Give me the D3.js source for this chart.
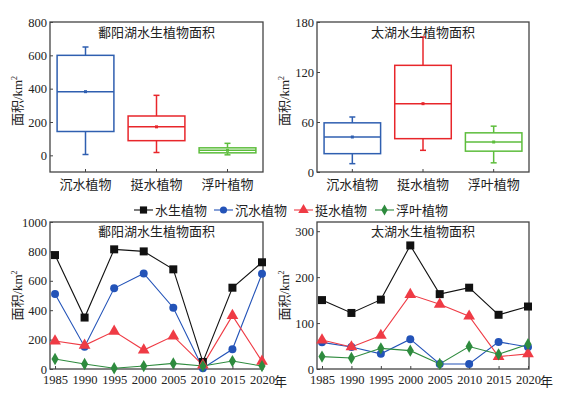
<!DOCTYPE html>
<html>
<head>
<meta charset="utf-8">
<script src="https://cdn.jsdelivr.net/npm/d3@7"></script>
<style>
  body { margin: 0; background: #fff; }
  svg text { fill: #222; }
</style>
</head>
<body>
<div id="chart"></div>
<script>
// box plot categories
var plantTypes = ['沉水植物', '挺水植物', '浮叶植物'];
// [low whisker, q1, median, q3, high whisker, mean]
var poyangBox = [
  [5, 143, 382, 600, 650, 382],
  [17, 88, 171, 236, 360, 171],
  [3, 15, 30, 45, 72, 30]
];
var taihuBox = [
  [10, 22, 42, 59, 66, 42],
  [26, 40, 82, 128, 162, 82],
  [11, 25, 36, 47, 55, 36]
];

// line chart data
var years = [1985, 1990, 1995, 2000, 2005, 2010, 2015, 2020];
var seriesNames = ['水生植物', '沉水植物', '挺水植物', '浮叶植物'];
var poyangTotal    = [775, 350, 814, 800, 678, 48, 553, 726];
var poyangSubmerged = [510, 152, 549, 650, 417, 5, 134, 648];
var poyangEmergent = [190, 161, 256, 129, 224, 27, 363, 52];
var poyangFloating = [68, 34, 5, 20, 38, 20, 54, 20];
var taihuTotal     = [150, 122, 151, 269, 163, 177, 118, 136];
var taihuSubmerged = [58, 48, 33, 65, 11, 11, 59, 48];
var taihuEmergent  = [63, 48, 73, 162, 141, 115, 27, 33];
var taihuFloating  = [27, 24, 45, 40, 11, 49, 32, 54];

var boxColors = ['#2f5fb0', '#e8262b', '#5dbd3c'];
var lineColors = ['#111111', '#2353b8', '#ef3b45', '#2e8b3e'];
var markerTypes = [d3.symbolSquare, d3.symbolCircle, d3.symbolTriangle, d3.symbolDiamond];
var markerSizes = [64, 50, 60, 44];

var numFont = '"Liberation Serif", "Times New Roman", serif';
var cjkFont = '"Liberation Serif", "Noto Sans CJK SC", sans-serif';

var W = 563, H = 394;
var svg = d3.select('#chart').append('svg').attr('width', W).attr('height', H);

function frame(g, x0, x1, y0, y1) {
  g.append('rect').attr('x', x0).attr('y', y0)
    .attr('width', x1 - x0).attr('height', y1 - y0)
    .attr('fill', 'none').attr('stroke', '#444').attr('stroke-width', 1.3);
}

function styleAxis(a) {
  a.select('.domain').remove();
  a.attr('font-family', numFont).attr('font-size', 12.5);
  a.selectAll('line').attr('stroke', '#444');
  a.selectAll('text').attr('fill', '#222');
}

function yAxis(g, y, x0, ticks) {
  var ax = d3.axisLeft(y).tickValues(ticks).tickFormat(d3.format('d'))
    .tickSizeInner(-3).tickSizeOuter(0).tickPadding(3);
  styleAxis(g.append('g').attr('transform', 'translate(' + x0 + ',0)').call(ax));
}

function yLabel(g, x, y) {
  var t = g.append('text').attr('transform', 'translate(' + x + ',' + y + ') rotate(-90)')
    .attr('text-anchor', 'middle').attr('font-size', 13).attr('font-family', cjkFont);
  t.append('tspan').text('面积/km');
  t.append('tspan').attr('dy', -5).attr('font-size', 8).text('2');
}

function title(g, x, y, s) {
  g.append('text').attr('x', x).attr('y', y).attr('text-anchor', 'middle')
    .attr('font-size', 13).attr('font-family', cjkFont).text(s);
}

function boxPanel(data, x0, x1, y0, y1, domain, ticks, name) {
  var g = svg.append('g');
  var x = d3.scaleBand().domain(plantTypes).range([x0, x1]).paddingInner(0.2).paddingOuter(0.1);
  var y = d3.scaleLinear().domain(domain).range([y1, y0]);
  frame(g, x0, x1, y0, y1);
  yAxis(g, y, x0, ticks);
  // category labels + inner ticks
  plantTypes.forEach(function (c) {
    var cx = x(c) + x.bandwidth() / 2;
    g.append('line').attr('x1', cx).attr('x2', cx).attr('y1', y1).attr('y2', y1 - 3).attr('stroke', '#444');
    g.append('text').attr('x', cx).attr('y', y1 + 17).attr('text-anchor', 'middle')
      .attr('font-size', 13).attr('font-family', cjkFont).text(c);
  });
  data.forEach(function (d, i) {
    var c = plantTypes[i], col = boxColors[i];
    var bx = x(c), bw = x.bandwidth(), cx = bx + bw / 2;
    var bg = g.append('g').attr('stroke', col).attr('stroke-width', 1.5).attr('fill', 'none');
    bg.append('line').attr('x1', cx).attr('x2', cx).attr('y1', y(d[0])).attr('y2', y(d[1]));
    bg.append('line').attr('x1', cx).attr('x2', cx).attr('y1', y(d[3])).attr('y2', y(d[4]));
    [d[0], d[4]].forEach(function (v) {
      bg.append('line').attr('x1', cx - 3).attr('x2', cx + 3).attr('y1', y(v)).attr('y2', y(v));
    });
    bg.append('rect').attr('x', bx).attr('y', y(d[3])).attr('width', bw)
      .attr('height', y(d[1]) - y(d[3]));
    bg.append('line').attr('x1', bx).attr('x2', bx + bw).attr('y1', y(d[2])).attr('y2', y(d[2]));
    g.append('rect').attr('x', cx - 1.5).attr('y', y(d[5]) - 1.5).attr('width', 3).attr('height', 3)
      .attr('fill', col);
  });
  title(g, (x0 + x1) / 2, y0 + 15, name);
  yLabel(g, (x0 < 100 ? 22 : 289), (y0 + y1) / 2 + 4);
}

function linePanel(seriesList, x0, x1, y0, y1, yDomain, ticks, name) {
  var g = svg.append('g');
  var x = d3.scaleLinear().domain([1984.15, 2020.17]).range([x0, x1]);
  var y = d3.scaleLinear().domain(yDomain).range([y1, y0]);
  frame(g, x0, x1, y0, y1);
  yAxis(g, y, x0, ticks);
  var ax = d3.axisBottom(x).tickValues(years).tickFormat(d3.format('d'))
    .tickSizeInner(-3).tickSizeOuter(0).tickPadding(6);
  styleAxis(g.append('g').attr('transform', 'translate(0,' + y1 + ')').call(ax));
  g.append('text').attr('x', x(2020) + 12).attr('y', y1 + 17).attr('font-size', 13)
    .attr('font-family', cjkFont).text('年');
  var line = d3.line().x(function (d, i) { return x(years[i]); }).y(function (d) { return y(d); });
  seriesList.forEach(function (s, k) {
    g.append('path').attr('d', line(s)).attr('fill', 'none')
      .attr('stroke', lineColors[k]).attr('stroke-width', 1.1);
  });
  seriesList.forEach(function (s, k) {
    g.selectAll(null).data(s).enter().append('path')
      .attr('d', d3.symbol().type(markerTypes[k]).size(markerSizes[k]))
      .attr('transform', function (d, i) { return 'translate(' + x(years[i]) + ',' + y(d) + ')'; })
      .attr('fill', lineColors[k]);
  });
  title(g, (x0 + x1) / 2, y0 + 14, name);
  yLabel(g, (x0 < 100 ? 22 : 289), (y0 + y1) / 2);
}

boxPanel(poyangBox, 50, 263, 22, 172, [-100, 800], [0, 200, 400, 600, 800], '鄱阳湖水生植物面积');
boxPanel(taihuBox, 317, 529, 22, 172, [0, 180], [0, 60, 120, 180], '太湖水生植物面积');
linePanel([poyangTotal, poyangSubmerged, poyangEmergent, poyangFloating], 50, 263, 222, 369,
  [0, 1000], [0, 200, 400, 600, 800, 1000], '鄱阳湖水生植物面积');
linePanel([taihuTotal, taihuSubmerged, taihuEmergent, taihuFloating], 317, 529, 222, 369,
  [0, 320], [0, 100, 200, 300], '太湖水生植物面积');

// legend
var legendX = [134, 214, 294, 375];
var lg = svg.append('g');
seriesNames.forEach(function (n, k) {
  var lx = legendX[k], ly = 210;
  lg.append('line').attr('x1', lx).attr('x2', lx + 19).attr('y1', ly).attr('y2', ly)
    .attr('stroke', lineColors[k]).attr('stroke-width', 1.1);
  lg.append('path').attr('d', d3.symbol().type(markerTypes[k]).size(markerSizes[k] * 0.8))
    .attr('transform', 'translate(' + (lx + 9.5) + ',' + ly + ')').attr('fill', lineColors[k]);
  lg.append('text').attr('x', lx + 21).attr('y', ly + 4.5).attr('font-size', 13)
    .attr('font-family', cjkFont).text(n);
});
</script>
</body>
</html>
